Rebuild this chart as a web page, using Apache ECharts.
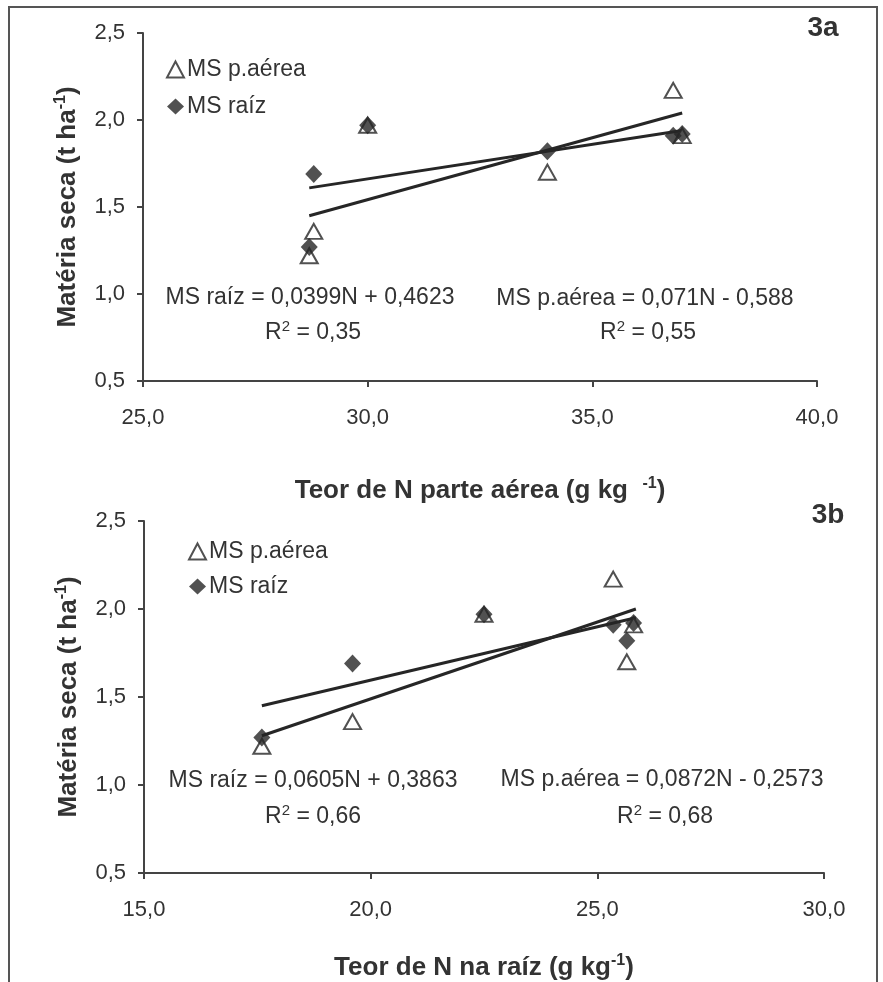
<!DOCTYPE html>
<html>
<head>
<meta charset="utf-8">
<script src="https://cdn.jsdelivr.net/npm/echarts@6/dist/echarts.min.js"></script>
<style>
  html, body { margin: 0; padding: 0; background: #fff; }
  #chart { width: 883px; height: 982px; }
</style>
</head>
<body>
<div id="chart"></div>
<script>
// N content (g/kg) for each plot: shoot (3a) and root (3b)
var nParteAerea = [28.7, 28.8, 30.0, 34.0, 36.8, 37.0];
var nRaiz = [17.6, 19.6, 22.5, 25.65, 25.35, 25.8];
// dry matter (t/ha)
var msAerea = [1.22, 1.36, 1.97, 1.70, 2.17, 1.91];
var msRaiz = [1.27, 1.69, 1.97, 1.82, 1.91, 1.92];
// trend line ends [[x0, y0], [x1, y1]]
var trendTopRaiz = [[28.7, 1.61], [37.0, 1.94]];
var trendTopAerea = [[28.7, 1.45], [37.0, 2.04]];
var trendBotRaiz = [[17.6, 1.45], [25.85, 1.95]];
var trendBotAerea = [[17.6, 1.28], [25.85, 2.00]];
// equation labels
var eqTop = ['MS raíz = 0,0399N + 0,4623', 'R{sup|2} = 0,35', 'MS p.aérea = 0,071N - 0,588', 'R{sup|2} = 0,55'];
var eqBot = ['MS raíz = 0,0605N + 0,3863', 'R{sup|2} = 0,66', 'MS p.aérea = 0,0872N - 0,2573', 'R{sup|2} = 0,68'];

var dark = '#262626';
var txt = '#333';
var font = 'Liberation Sans, Arial, sans-serif';
var comma = function (v) { return v.toFixed(1).replace('.', ','); };
var sup = { sup: { fontSize: 15, padding: [0, 0, 12, 0], fontFamily: font, color: txt } };
var supBold = { sup: { fontSize: 16, fontWeight: 'bold', padding: [0, 0, 14, 0], fontFamily: font, color: txt } };

function pairs(xs, ys) {
    return xs.map(function (x, i) { return [x, ys[i]]; });
}

function xAxis(idx, min, max, name, gap) {
    return {
        gridIndex: idx, type: 'value', min: min, max: max, interval: 5,
        name: name, nameLocation: 'middle', nameGap: gap,
        nameTextStyle: { fontSize: 26, fontWeight: 'bold', color: txt, fontFamily: font, rich: supBold },
        axisLine: { lineStyle: { color: '#444', width: 2 } },
        axisTick: { length: 6, lineStyle: { color: '#444', width: 2 } },
        axisLabel: { formatter: comma, fontSize: 22, color: txt, fontFamily: font, margin: 26 },
        splitLine: { show: false }
    };
}

function yAxis(idx) {
    return {
        gridIndex: idx, type: 'value', min: 0.5, max: 2.5, interval: 0.5,
        name: 'Matéria seca (t ha{sup|-1})', nameLocation: 'middle', nameGap: 60, nameRotate: 90,
        nameTextStyle: { fontSize: 26, fontWeight: 'bold', color: txt, fontFamily: font, rich: supBold },
        axisLine: { show: true, lineStyle: { color: '#444', width: 2 } },
        axisTick: { show: true, length: 6, lineStyle: { color: '#444', width: 2 } },
        axisLabel: { formatter: comma, fontSize: 22, color: txt, fontFamily: font, margin: 18 },
        splitLine: { show: false }
    };
}

function trend(data, idx) {
    return {
        type: 'line', data: data, xAxisIndex: idx, yAxisIndex: idx,
        symbol: 'none', silent: true, z: 1,
        lineStyle: { color: dark, width: 3 }
    };
}

function pts(name, data, idx) {
    var tri = name === 'MS p.aérea';
    return {
        name: name, type: 'scatter', data: data, xAxisIndex: idx, yAxisIndex: idx, z: 3,
        symbol: tri ? 'triangle' : 'diamond',
        symbolSize: tri ? [17, 15] : [17, 18],
        itemStyle: tri ? { color: '#fff', borderColor: dark, borderWidth: 2 } : { color: dark }
    };
}

function legend(left, top, gap) {
    return {
        orient: 'vertical', left: left, top: top, itemGap: gap,
        itemWidth: 17, itemHeight: 16,
        textStyle: { fontSize: 23, color: txt, fontFamily: font, padding: [0, 0, 0, -2] },
        data: ['MS p.aérea', 'MS raíz']
    };
}

function eqText(cx, cy, text, bold, size) {
    return {
        type: 'text', x: cx, y: cy,
        style: {
            text: text, fontSize: size || 23, fontWeight: bold ? 'bold' : 'normal',
            fill: txt, fontFamily: font, align: 'center', verticalAlign: 'middle', rich: sup
        }
    };
}

var chart = echarts.init(document.getElementById('chart'));
chart.setOption({
    backgroundColor: '#fff',
    animation: false,
    grid: [
        { left: 143, top: 33, width: 674, height: 348 },
        { left: 144, top: 521, width: 680, height: 353 }
    ],
    xAxis: [
        xAxis(0, 25, 40, 'Teor de N parte aérea (g kg  {sup|-1})', 95),
        xAxis(1, 15, 30, 'Teor de N na raíz (g kg{sup|-1})', 80)
    ],
    yAxis: [yAxis(0), yAxis(1)],
    legend: [legend(161, 53, 14), legend(183, 535, 12)],
    graphic: [
        { type: 'polyline', shape: { points: [[9, 990], [9, 7], [877, 7], [877, 990]] },
          style: { stroke: '#555', lineWidth: 2, fill: null } },
        eqText(823, 28, '3a', true, 28),
        eqText(828, 515, '3b', true, 28),
        eqText(310, 298, eqTop[0]),
        eqText(313, 333, eqTop[1]),
        eqText(645, 299, eqTop[2]),
        eqText(648, 333, eqTop[3]),
        eqText(313, 781, eqBot[0]),
        eqText(313, 817, eqBot[1]),
        eqText(662, 780, eqBot[2]),
        eqText(665, 817, eqBot[3])
    ],
    series: [
        trend(trendTopRaiz, 0),
        trend(trendTopAerea, 0),
        trend(trendBotRaiz, 1),
        trend(trendBotAerea, 1),
        pts('MS p.aérea', pairs(nParteAerea, msAerea), 0),
        pts('MS raíz', pairs(nParteAerea, msRaiz), 0),
        pts('MS p.aérea', pairs(nRaiz, msAerea), 1),
        pts('MS raíz', pairs(nRaiz, msRaiz), 1)
    ]
});
window.addEventListener('resize', function () { chart.resize(); });
</script>
</body>
</html>
